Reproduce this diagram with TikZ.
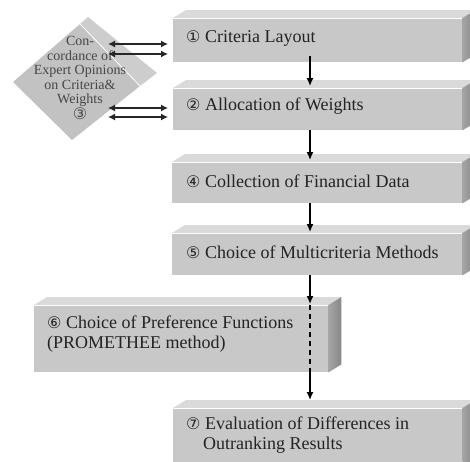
\documentclass[tikz,border=0pt]{standalone}
\usepackage{fontspec}
\setmainfont{Liberation Serif}
\newfontfamily\symf{DejaVu Sans}
\usetikzlibrary{arrows.meta,calc}
\definecolor{frontc}{RGB}{200,200,200}
\definecolor{topc}{RGB}{218,218,218}
\definecolor{sidea}{RGB}{165,165,165}
\definecolor{sideb}{RGB}{135,135,135}
\definecolor{txtc}{RGB}{35,35,35}
\definecolor{dtxtc}{RGB}{70,70,70}
\newcommand\cn[1]{{\symf\fontsize{16}{16}\selectfont #1}}
\newcommand\gbox[5]{%
  \node[frontface, minimum width=#4pt, minimum height=#5pt] (#1) at (#2,#3) {};
  \fill[topc] (#1.north west) -- ($(#1.north west)+(13,-8)$) -- ($(#1.north east)+(13,-8)$) -- (#1.north east) -- cycle;
  \shade[left color=sidea, right color=sideb] (#1.north east) -- ($(#1.north east)+(13,-8)$) -- ($(#1.south east)+(13,-8)$) -- (#1.south east) -- cycle;
  \draw[white, line width=1pt] (#1.north west) -- (#1.north east);
}
\tikzset{
  frontface/.style={fill=frontc, draw=none, anchor=north west, inner sep=0pt},
  boxtext/.style={anchor=west, inner sep=0pt, text=txtc, align=left, font=\fontsize{18}{19.5}\selectfont},
  flow/.style={-{Latex[length=8pt,width=7pt]}, line width=1.4pt, black},
  dflow/.style={{Latex[length=7pt,width=7pt]}-{Latex[length=7pt,width=7pt]}, line width=1.2pt, black!85},
}
\begin{document}
\begin{tikzpicture}[x=1pt,y=-1pt]
\useasboundingbox (0,0) rectangle (470,461);
\clip (0,0) rectangle (470,461);

% diamond (concordance)
\fill[fill=frontc!97!black] (13,82) -- (80,24) -- (140,86) -- (72,140) -- cycle;
\fill[fill=topc!94!black] (80,24) -- (88,17) -- (157,73) -- (140,86) -- cycle;
\draw[white, line width=0.8pt] (80,24) -- (140,86);
\node[align=center, text=dtxtc, font=\fontsize{14}{14.6}\selectfont, inner sep=0pt] (conc) at (80,78)
  {Con-\\cordance of\\Expert Opinions\\on Criteria\&\\Weights\\\cn{③}};

% boxes
\gbox{b1}{173}{18}{289}{44}
\gbox{b2}{173}{88}{289}{42}
\gbox{b3}{172}{162}{290}{41}
\gbox{b4}{172}{233}{290}{42}
\gbox{b5}{34}{305}{294}{67}
\gbox{b6}{173}{408}{289}{60}

\node[boxtext] (t1) at (186,38) {\cn{①} Criteria Layout};
\node[boxtext] (t2) at (186,106) {\cn{②} Allocation of Weights};
\node[boxtext] (t3) at (186,181) {\cn{④} Collection of Financial Data};
\node[boxtext] (t4) at (186,252) {\cn{⑤} Choice of Multicriteria Methods};
\node[boxtext] (t5) at (47,334) {\cn{⑥} Choice of Preference Functions\\(PROMETHEE method)};
\node[boxtext] (t6) at (186,435) {\cn{⑦} Evaluation of Differences in\\\hspace*{17pt}Outranking Results};

% main flow
\coordinate (ax) at (310,0);
\draw[flow] ($(b1.south -| ax)+(0,-6)$) -- ($(b2.north -| ax)+(0,-2)$);
\draw[flow] (b2.south -| ax) -- ($(b3.north -| ax)+(0,-2)$);
\draw[flow] (b3.south -| ax) -- ($(b4.north -| ax)+(0,-1)$);
\draw[flow] (b4.south -| ax) -- ($(b5.north -| ax)+(0,-1)$);
\draw[line width=1.4pt, dash pattern=on 5pt off 4pt] (b5.north -| ax) -- (b5.south -| ax);
\draw[flow] (b5.south -| ax) -- ($(b6.north -| ax)+(0,-8)$);

% double arrows between concordance and boxes 1, 2
\coordinate (c1a) at (108,44);
\coordinate (c1b) at (108,54);
\coordinate (c2a) at (108,108);
\coordinate (c2b) at (108,117);
\draw[dflow] (c1a) -- ($(b1.west |- c1a)+(-5,0)$);
\draw[dflow] (c1b) -- ($(b1.west |- c1b)+(-5,0)$);
\draw[dflow] (c2a) -- ($(b2.west |- c2a)+(-5,0)$);
\draw[dflow] (c2b) -- ($(b2.west |- c2b)+(-5,0)$);
\end{tikzpicture}
\end{document}
